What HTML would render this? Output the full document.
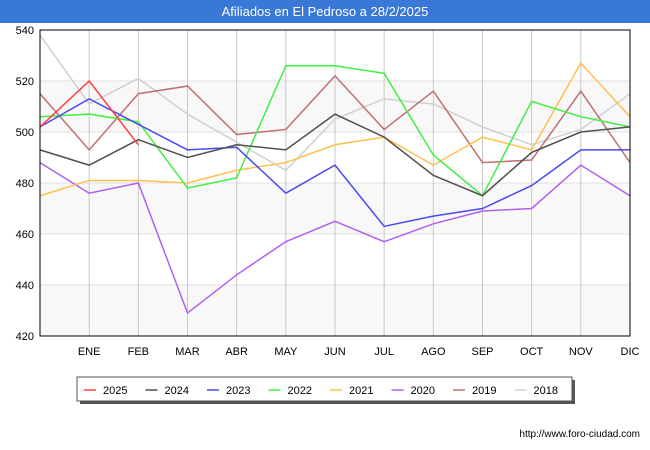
<!DOCTYPE html>
<html><head><meta charset="utf-8"><style>
body{margin:0;width:650px;height:450px;background:#fff;font-family:"Liberation Sans",sans-serif;overflow:hidden}
#title{position:absolute;left:0;top:0;width:650px;height:23px;background:#3a78d8;color:#fff;font-size:13px;text-align:center;line-height:23px}
</style></head><body>
<div id="title">Afiliados en El Pedroso a 28/2/2025</div>
<svg id="chart" width="650" height="450" style="position:absolute;left:0;top:0"></svg>
<script>
const months=["","ENE","FEB","MAR","ABR","MAY","JUN","JUL","AGO","SEP","OCT","NOV","DIC"];
const yTicks=[420,440,460,480,500,520,540];
const seriesNames=["2025","2024","2023","2022","2021","2020","2019","2018"];
const seriesColors=["#ff4040","#505050","#4a4af0","#40f040","#ffc050","#b060f0","#c07070","#d0d0d0"];
const s2025=[502,520,495];
const s2024=[493,487,497,490,495,493,507,498,483,475,492,500,502];
const s2023=[502,513,503,493,494,476,487,463,467,470,479,493,493];
const s2022=[506,507,504,478,482,526,526,523,491,475,512,506,502];
const s2021=[475,481,481,480,485,488,495,498,487,498,493,527,506];
const s2020=[488,476,480,429,444,457,465,457,464,469,470,487,475];
const s2019=[515,493,515,518,499,501,522,501,516,488,489,516,488];
const s2018=[538,511,521,507,496,485,505,513,511,502,495,501,515];
const allSeries=[s2025,s2024,s2023,s2022,s2021,s2020,s2019,s2018];
const NS="http://www.w3.org/2000/svg";
const svg=document.getElementById('chart');
const L=40,R=630,T=30,B=336,ymin=420,ymax=540;
const xs=i=>L+(R-L)*i/(months.length-1);
const ys=v=>B-(v-ymin)/(ymax-ymin)*(B-T);
function mk(tag,attrs,parent){const e=document.createElementNS(NS,tag);for(const k in attrs)e.setAttribute(k,attrs[k]);(parent||svg).appendChild(e);return e;}
for(let i=0;i<yTicks.length-1;i++){
  if(i%2===0){const r=mk('rect',{x:L,y:ys(yTicks[i+1]),width:R-L,height:ys(yTicks[i])-ys(yTicks[i+1]),fill:'#f8f8f8'});
  
  }
}
yTicks.forEach(v=>{
  const l=mk('line',{x1:L,x2:R,y1:ys(v),y2:ys(v),stroke:'#e0e0e0'});
  
  
  const t=mk('text',{x:L-6,y:ys(v)+4,'text-anchor':'end','font-size':11,fill:'#000'});t.textContent=v;
  
  
});
months.forEach((m,i)=>{
  if(i===0)return;
  const l=mk('line',{x1:xs(i),x2:xs(i),y1:T,y2:B,stroke:'#c8c8c8'});
  
  
  const t=mk('text',{x:xs(i),y:B+19,'text-anchor':'middle','font-size':11,fill:'#000'});t.textContent=m;
  
  
});
for(let k=allSeries.length-1;k>=0;k--){
  const d=allSeries[k].map((v,i)=>xs(i)+','+ys(v)).join(' ');
  const p=mk('polyline',{points:d,fill:'none',stroke:seriesColors[k],'stroke-width':1.5});
  
  
}
const frame=mk('rect',{x:L,y:T,width:R-L,height:B-T,fill:'none',stroke:'#000','stroke-width':1});


const lg=mk('g',{});


mk('rect',{x:80,y:380,width:495,height:24,fill:'#555'},lg);
mk('rect',{x:77,y:377,width:495,height:24,fill:'#fff',stroke:'#555'},lg);
seriesNames.forEach((n,k)=>{
  const x0=84+k*61.5;
  const g=mk('g',{},lg);
  
  
  mk('line',{x1:x0,x2:x0+12,y1:390,y2:390,stroke:seriesColors[k],'stroke-width':1.5},g);
  const t=mk('text',{x:x0+19,y:394,'font-size':11,fill:'#000'},g);t.textContent=n;
});
const u=mk('text',{x:640,y:437,'text-anchor':'end','font-size':10,fill:'#000'});u.textContent='http://www.foro-ciudad.com';


</script>
</body></html>
